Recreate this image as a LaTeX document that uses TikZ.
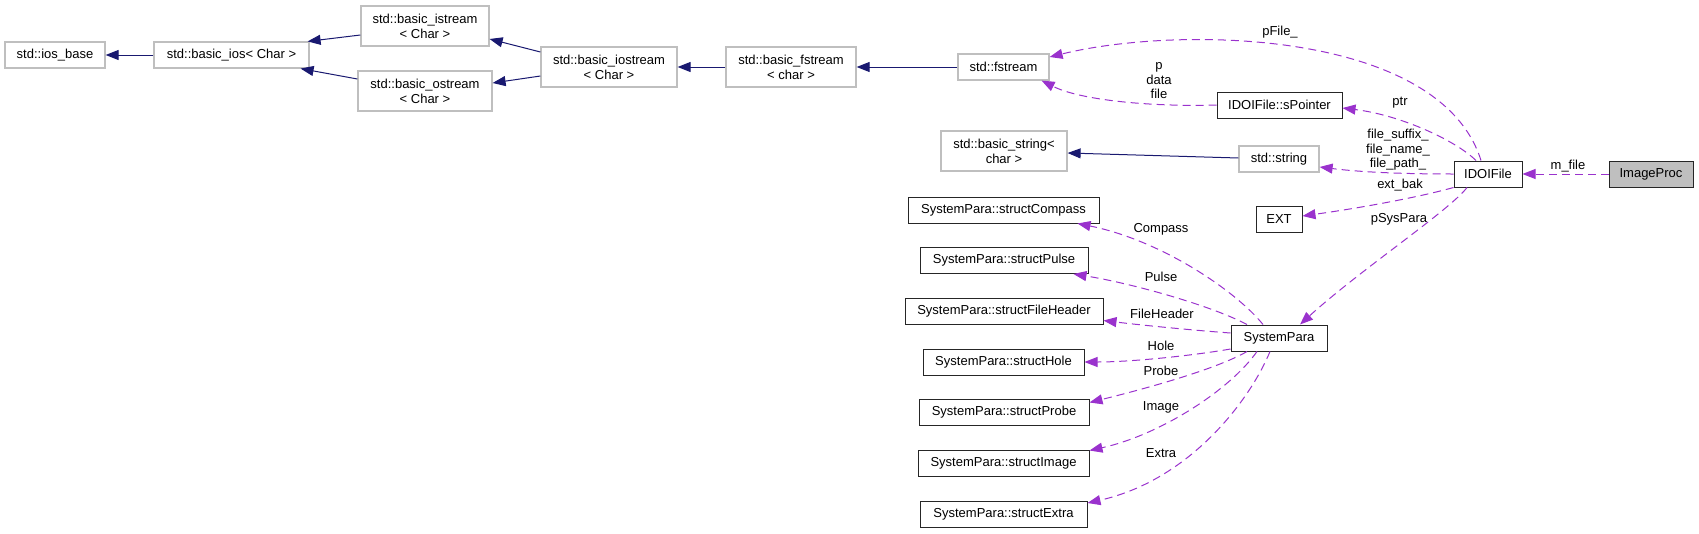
\documentclass[tikz,border=0pt]{standalone}
\usepackage{fontspec}
\setmainfont{Liberation Sans}
\usetikzlibrary{arrows.meta,calc}
\definecolor{navyc}{HTML}{191970}
\definecolor{orchidc}{HTML}{9A32CD}
\definecolor{greyc}{HTML}{BFBFBF}
\begin{document}
\begin{tikzpicture}[x=1pt,y=-1pt,
  box/.style={draw=black!85, line width=1pt, fill=white, minimum height=26pt, inner sep=0pt,
    font=\fontsize{13}{15}\selectfont, align=center},
  gbox/.style={box, draw=greyc, line width=1.2pt},
  tall/.style={minimum height=40pt},
  inh/.style={draw=navyc, line width=1pt, -{Triangle[length=13pt,width=10pt]}},
  use/.style={draw=orchidc, line width=1pt, dash pattern=on 8pt off 5pt, -{Triangle[length=13pt,width=10pt]}},
  lbl/.style={font=\fontsize{13}{14.5}\selectfont, inner sep=0pt, align=center}]
\useasboundingbox (0,0) rectangle (1699,533);
% nodes
\node[gbox, minimum width=100pt] (iosbase) at (55,55) {std::ios\_base};
\node[gbox, minimum width=155pt] (basicios) at (231.5,55) {std::basic\_ios< Char >};
\node[gbox, tall, minimum width=128pt] (istream) at (425,26) {std::basic\_istream\\< Char >};
\node[gbox, tall, minimum width=134pt] (ostream) at (425,91) {std::basic\_ostream\\< Char >};
\node[gbox, tall, minimum width=136pt] (iostream) at (609,67) {std::basic\_iostream\\< Char >};
\node[gbox, tall, minimum width=130pt] (bfstream) at (791,67) {std::basic\_fstream\\< char >};
\node[gbox, minimum width=91pt] (fstream) at (1003.5,67) {std::fstream};
\node[box, minimum width=125pt] (spointer) at (1279.5,105) {IDOIFile::sPointer};
\node[gbox, tall, minimum width=126pt] (bstring) at (1004,151) {std::basic\_string<\\char >};
\node[gbox, minimum width=80pt] (string) at (1279,159) {std::string};
\node[box, minimum width=68pt] (idoifile) at (1488,174) {IDOIFile};
\node[box, fill=greyc, minimum width=84pt] (imageproc) at (1651,174) {ImageProc};
\node[box, minimum width=46pt] (ext) at (1279,219) {EXT};
\node[box, minimum width=191pt] (compass) at (1003.5,210) {SystemPara::structCompass};
\node[box, minimum width=168pt] (pulse) at (1004,260.5) {SystemPara::structPulse};
\node[box, minimum width=198pt] (fileheader) at (1004,311.5) {SystemPara::structFileHeader};
\node[box, minimum width=96pt] (systempara) at (1279,338) {SystemPara};
\node[box, minimum width=161pt] (hole) at (1003.5,362) {SystemPara::structHole};
\node[box, minimum width=170pt] (probe) at (1004,412.5) {SystemPara::structProbe};
\node[box, minimum width=171pt] (image) at (1003.5,463.5) {SystemPara::structImage};
\node[box, minimum width=167pt] (extra) at (1003.5,514) {SystemPara::structExtra};
% inheritance
\draw[inh] (basicios.west) -- (iosbase.east);
\draw[inh] ([yshift=-9pt]istream.west) -- ([xshift=-2pt]basicios.north east);
\draw[inh] ([yshift=12pt]ostream.west) -- ([xshift=-9pt]basicios.south east);
\draw[inh] ([yshift=15pt]iostream.west) -- ([yshift=-13pt]istream.east);
\draw[inh] ([yshift=-9pt]iostream.west) -- ([yshift=8pt]ostream.east);
\draw[inh] (bfstream.west) -- (iostream.east);
\draw[inh] (fstream.west) -- (bfstream.east);
\draw[inh] ([yshift=1pt]string.west) -- ([yshift=-2pt]bstring.east);
% usage
\draw[use] ([xshift=-7pt]idoifile.north) .. controls (1440,30) and (1180,25) .. ([yshift=10pt]fstream.east);
\node[lbl] (lpfile) at (1280,32) {pFile\_};
\draw[use] (spointer.west) .. controls (1150,107) and (1080,100) .. ([xshift=-8pt]fstream.south east);
\node[lbl] (lpdata) at (1159,81) {p\\data\\file};
\draw[use] ([xshift=-12pt]idoifile.north) .. controls (1455,140) and (1400,115) .. ([yshift=-3pt]spointer.east);
\node[lbl] (lptr) at (1400,103) {ptr};
\draw[use] (idoifile.west) .. controls (1400,174) and (1360,172) .. ([yshift=-8pt]string.east);
\node[lbl] (lfiles) at (1398,150) {file\_suffix\_\\file\_name\_\\file\_path\_};
\draw[use] (idoifile.south west) .. controls (1420,197) and (1360,208) .. ([yshift=3pt]ext.east);
\node[lbl] (lextbak) at (1400,185) {ext\_bak};
\draw[use] ([xshift=-21pt]idoifile.south) .. controls (1450,210) and (1360,270) .. ([xshift=21pt]systempara.north);
\node[lbl] (lpsys) at (1399,219) {pSysPara};
\draw[use] (imageproc.west) -- (idoifile.east);
\node[lbl] (lmfile) at (1568,166) {m\_file};
\draw[use] ([xshift=-16pt]systempara.north) .. controls (1235,290) and (1160,240) .. ([xshift=-22pt]compass.south east);
\node[lbl] (lcompass) at (1161,229) {Compass};
\draw[use] ([xshift=-32pt]systempara.north) .. controls (1210,305) and (1130,283) .. ([xshift=-15pt]pulse.south east);
\node[lbl] (lpulse) at (1161,277) {Pulse};
\draw[use] ([yshift=5pt]systempara.west) .. controls (1190,330) and (1140,325) .. ([yshift=-9pt]fileheader.east);
\node[lbl] (lfh) at (1162,314) {FileHeader};
\draw[use] ([yshift=-11pt]systempara.west) .. controls (1190,356) and (1130,362) .. (hole.east);
\node[lbl] (lhole) at (1161,346) {Hole};
\draw[use] ([xshift=-32pt]systempara.south) .. controls (1215,370) and (1140,390) .. ([yshift=10pt]probe.east);
\node[lbl] (lprobe) at (1161,371) {Probe};
\draw[use] ([xshift=-22pt]systempara.south) .. controls (1230,390) and (1160,435) .. ([yshift=13pt]image.east);
\node[lbl] (limage) at (1161,407) {Image};
\draw[use] ([xshift=-9pt]systempara.south) .. controls (1250,400) and (1190,480) .. ([yshift=11pt]extra.east);
\node[lbl] (lextra) at (1161,453) {Extra};
\end{tikzpicture}
\end{document}
